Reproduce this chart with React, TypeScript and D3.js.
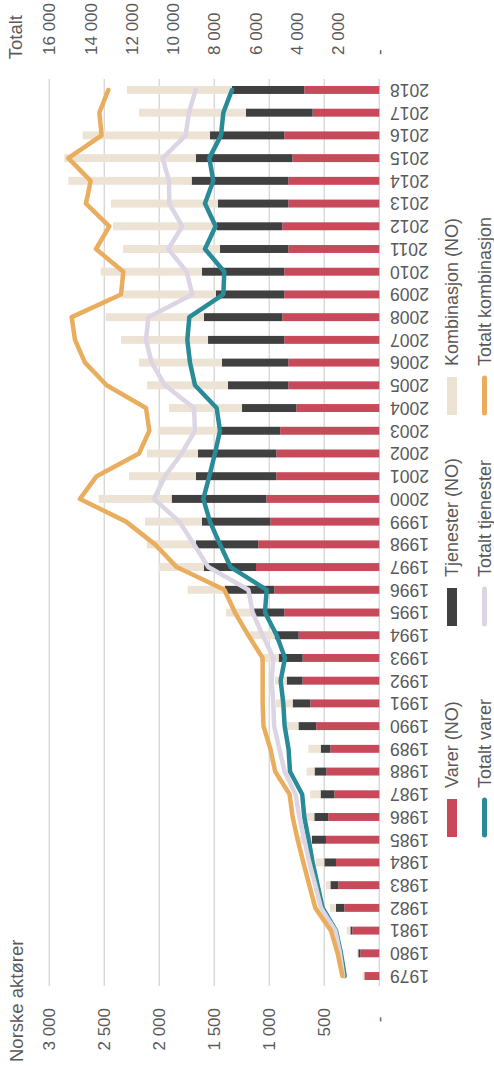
import React, { useEffect, useRef } from 'react';
import * as d3 from 'd3';

// years on the category axis
const years = [
  '1979', '1980', '1981', '1982', '1983', '1984', '1985', '1986', '1987', '1988',
  '1989', '1990', '1991', '1992', '1993', '1994', '1995', '1996', '1997', '1998',
  '1999', '2000', '2001', '2002', '2003', '2004', '2005', '2006', '2007', '2008',
  '2009', '2010', '2011', '2012', '2013', '2014', '2015', '2016', '2017', '2018',
];

// Norske aktører (left axis), stacked bars
const varer = [
  136, 173, 245, 318, 373, 394, 485, 464, 408, 482,
  445, 573, 627, 697, 697, 733, 864, 954, 1121, 1100,
  991, 1027, 936, 936, 900, 754, 827, 827, 864, 882,
  864, 864, 827, 882, 827, 827, 791, 864, 606, 682,
];
const tjenester = [
  0, 18, 18, 76, 72, 106, 127, 127, 126, 107,
  88, 162, 161, 145, 218, 218, 293, 449, 473, 567,
  621, 861, 731, 712, 548, 494, 549, 603, 693, 712,
  621, 748, 621, 597, 640, 879, 876, 675, 606, 657,
];
const kombinasjon = [
  15, 12, 33, 54, 40, 76, 115, 76, 94, 72,
  112, 122, 151, 106, 170, 225, 237, 339, 409, 445,
  518, 663, 609, 464, 561, 664, 736, 755, 791, 894,
  857, 921, 882, 942, 972, 1121, 1196, 1158, 973, 955,
];

// Totalt (right axis), lines
const totaltVarer = [
  1680, 1858, 2101, 2747, 2990, 3232, 3426, 3636, 3740, 4330,
  4400, 4590, 4654, 4783, 4573, 4977, 5543, 5462, 7207, 7724,
  8209, 8532, 8242, 7967, 7724, 7886, 8936, 9179, 9308, 9211,
  7563, 7514, 8452, 7935, 8452, 8048, 8242, 7676, 7563, 7143,
];
const totaltTjenester = [
  1750, 1907, 2133, 2828, 3103, 3394, 3636, 3878, 4060, 4590,
  4850, 5100, 5139, 5220, 5139, 5656, 6141, 6351, 8290, 8985,
  9696, 10924, 10391, 9583, 8936, 8985, 10391, 11037, 11312, 11199,
  9066, 9340, 10229, 9551, 10181, 10197, 10504, 9389, 9227, 8904,
];
const totaltKombinasjon = [
  1790, 2020, 2343, 3103, 3394, 3684, 3959, 4202, 4350, 5050,
  5280, 5615, 5656, 5656, 5656, 6351, 6997, 7514, 9825, 10876,
  12282, 14512, 13704, 11651, 11150, 11312, 13219, 14269, 14754, 14916,
  12524, 12411, 13736, 13090, 14221, 13995, 15077, 13461, 13574, 13138,
];

const leftTicks = [0, 500, 1000, 1500, 2000, 2500, 3000];
const rightTicks = [0, 2000, 4000, 6000, 8000, 10000, 12000, 14000, 16000];

const barLabels = ['Varer (NO)', 'Tjenester (NO)', 'Kombinasjon (NO)'];
const lineLabels = ['Totalt varer', 'Totalt tjenester', 'Totalt kombinasjon'];
const barColors = ['#c84a5a', '#404040', '#ede3d5'];
const lineColors = ['#2a8b98', '#dcd5e3', '#e9ad5d'];

const TEXT = '#595959';
const FONT = '"Liberation Sans", Arial, sans-serif';

const App: React.FC = () => {
  const svgRef = useRef<SVGSVGElement>(null);

  useEffect(() => {
    if (!svgRef.current) return;
    const root = d3.select(svgRef.current);
    root.selectAll('*').remove();

    // the chart is drawn landscape (1070 x 494) and turned a quarter to the left
    const W = 1070;
    const g = root
      .append('g')
      .attr('transform', `translate(0,${W}) rotate(-90)`)
      .style('font-family', FONT);

    const x = d3
      .scaleBand<string>()
      .domain(years)
      .range([82.6, 991.4])
      .paddingInner(0.65)
      .paddingOuter(0.325);
    const yLeft = d3.scaleLinear().domain([0, 3000]).range([379.3, 49.3]);
    const yRight = d3.scaleLinear().domain([0, 16000]).range([379.3, 49.3]);

    const fmt = d3
      .formatLocale({ decimal: ',', thousands: ' ', grouping: [3], currency: ['', ''] })
      .format(',d');

    // gridlines
    g.append('g')
      .selectAll('line')
      .data(leftTicks)
      .join('line')
      .attr('x1', 84)
      .attr('x2', 991)
      .attr('y1', (d) => yLeft(d))
      .attr('y2', (d) => yLeft(d))
      .attr('stroke', '#d9d9d9')
      .attr('stroke-width', 1.5);

    // stacked bars
    const rows = years.map((year, i) => ({
      year,
      v: varer[i],
      t: tjenester[i],
      k: kombinasjon[i],
    }));
    const stacked = d3.stack<any>().keys(['v', 't', 'k'])(rows);
    g.append('g')
      .selectAll('g')
      .data(stacked)
      .join('g')
      .attr('fill', (_, i) => barColors[i])
      .selectAll('rect')
      .data((d) => d)
      .join('rect')
      .attr('x', (d: any) => x(d.data.year) ?? 0)
      .attr('width', x.bandwidth())
      .attr('y', (d) => yLeft(d[1]))
      .attr('height', (d) => yLeft(d[0]) - yLeft(d[1]));

    // total lines
    const line = d3
      .line<number>()
      .x((_, i) => (x(years[i]) ?? 0) + x.bandwidth() / 2)
      .y((d) => yRight(d));
    [totaltVarer, totaltTjenester, totaltKombinasjon].forEach((vals, i) => {
      g.append('path')
        .datum(vals)
        .attr('d', line)
        .attr('fill', 'none')
        .attr('stroke', lineColors[i])
        .attr('stroke-width', 4.5)
        .attr('stroke-linejoin', 'round')
        .attr('stroke-linecap', 'round');
    });

    // left axis
    const left = g
      .append('g')
      .attr('transform', 'translate(62,0)')
      .call(
        d3
          .axisLeft(yLeft)
          .tickValues(leftTicks)
          .tickSize(0)
          .tickPadding(0)
          .tickFormat((d) => (+d === 0 ? '-' : fmt(+d)))
      );
    left.select('.domain').remove();
    left.attr('font-size', null).attr('font-family', null);
    left.selectAll('text').style('font-size', '17px').attr('fill', TEXT);
    left
      .selectAll<SVGTextElement, number>('text')
      .filter((d) => d === 0)
      .attr('dx', -8.5);

    // right axis
    const right = g
      .append('g')
      .attr('transform', 'translate(1015,0)')
      .call(
        d3
          .axisRight(yRight)
          .tickValues(rightTicks)
          .tickSize(0)
          .tickPadding(0)
          .tickFormat((d) => (+d === 0 ? '-' : fmt(+d)))
      );
    right.select('.domain').remove();
    right.attr('font-size', null).attr('font-family', null);
    right.selectAll('text').style('font-size', '17px').attr('fill', TEXT);

    // year labels, turned
    const xAxis = g
      .append('g')
      .attr('transform', 'translate(0,390)')
      .call(d3.axisBottom(x).tickSize(0).tickPadding(0));
    xAxis.select('.domain').remove();
    xAxis.attr('font-size', null).attr('font-family', null);
    xAxis
      .selectAll('text')
      .attr('x', 0)
      .attr('y', 0)
      .attr('dy', '0.35em')
      .attr('transform', 'rotate(-90)')
      .attr('text-anchor', 'end')
      .style('font-size', '17.5px')
      .attr('fill', TEXT);

    // axis titles
    g.append('text')
      .attr('x', 8)
      .attr('y', 23)
      .style('font-size', '18.5px')
      .attr('fill', TEXT)
      .text('Norske aktører');
    g.append('text')
      .attr('x', 1055)
      .attr('y', 22)
      .attr('text-anchor', 'end')
      .style('font-size', '18.5px')
      .attr('fill', TEXT)
      .text('Totalt');

    // legend
    const legendX = [233, 444, 655];
    const legend = g.append('g').style('font-size', '18px').attr('fill', TEXT);
    barLabels.forEach((label, i) => {
      legend
        .append('rect')
        .attr('x', legendX[i])
        .attr('y', 447)
        .attr('width', 38)
        .attr('height', 10)
        .attr('fill', barColors[i]);
      legend
        .append('text')
        .attr('x', legendX[i] + 49)
        .attr('y', 452)
        .attr('dy', '0.35em')
        .text(label);
    });
    lineLabels.forEach((label, i) => {
      legend
        .append('line')
        .attr('x1', legendX[i] + 2)
        .attr('x2', legendX[i] + 37)
        .attr('y1', 484.5)
        .attr('y2', 484.5)
        .attr('stroke', lineColors[i])
        .attr('stroke-width', 5)
        .attr('stroke-linecap', 'round');
      legend
        .append('text')
        .attr('x', legendX[i] + 49)
        .attr('y', 484.5)
        .attr('dy', '0.35em')
        .text(label);
    });
  }, []);

  return (
    <svg
      ref={svgRef}
      width={494}
      height={1070}
      style={{ position: 'absolute', left: 0, top: 0, background: '#fff' }}
    />
  );
};

export default App;
